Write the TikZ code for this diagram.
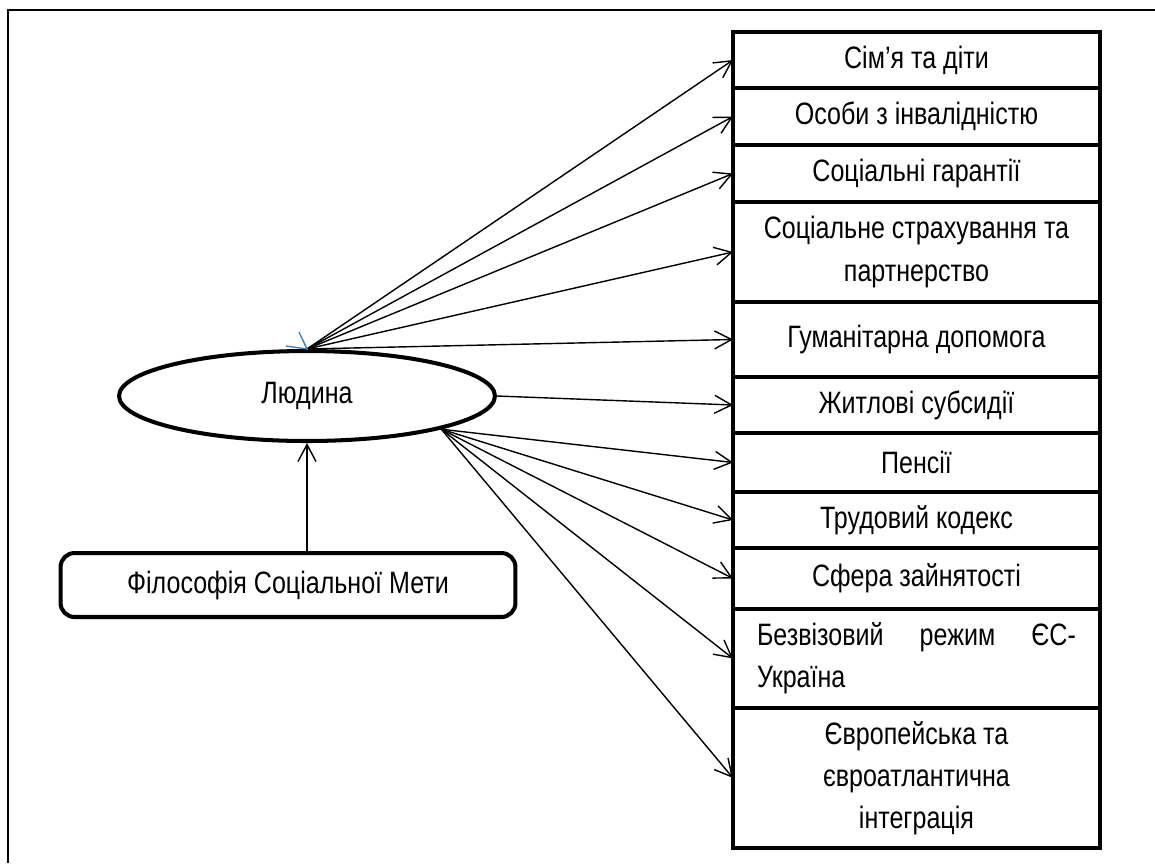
\documentclass[tikz,border=0pt]{standalone}
\usepackage{fontspec}
\setmainfont[FakeStretch=0.81]{Liberation Sans}
\usetikzlibrary{calc,positioning,arrows.meta,shapes.geometric}
\definecolor{markblue}{RGB}{74,126,187}

\begin{document}
\begin{tikzpicture}[x=0.02cm,y=-0.02cm,>={Straight Barb[length=3.4mm,width=3.6mm]},
    every node/.style={font=\fontsize{17.6}{24}\selectfont},
    box/.style={draw,line width=2.3pt,rectangle,anchor=north west,outer sep=0pt,inner sep=0pt,minimum width=7.34cm,align=center},
    link/.style={->,line width=0.8pt}]
    \useasboundingbox (0,0) rectangle (1155,863);
    \draw[line width=1.2pt] (8,863) -- (8,10) -- (1155,10);
    %
    \node[draw,ellipse,line width=2.3pt,minimum width=7.52cm,minimum height=1.8cm] (Ludyna) at (307,396) {Людина};
    \node[draw,rounded corners=8pt,line width=2.3pt,minimum width=9.1cm,minimum height=1.28cm] (Meta) at (288,585) {Філософія Соціальної Мети};
    %
    \node[box,minimum height=1.12cm] (Simya) at (733,32) {Сім’я та діти};
    \node[box,minimum height=1.14cm] (Osoby) at (733,88) {Особи з інвалідністю};
    \node[box,minimum height=1.14cm] (Harantii) at (733,145) {Соціальні гарантії};
    \node[box,minimum height=2.0cm] (Strakh) at (733,202) {Соціальне страхування та\\партнерство};
    \node[box,minimum height=1.5cm] (Humdop) at (733,302) {Гуманітарна допомога};
    \node[box,minimum height=1.12cm] (Subsydii) at (733,377) {Житлові субсидії};
    \node[box,minimum height=1.18cm] (Pensii) at (733,433) {Пенсії};
    \node[box,minimum height=1.12cm] (Kodeks) at (733,492) {Трудовий кодекс};
    \node[box,minimum height=1.22cm] (Zainiat) at (733,548) {Сфера зайнятості};
    \node[box,minimum height=1.98cm,text width=6.38cm,align=left] (Bezviz) at (733,609) {Безвізовий\hfill режим\hfill ЄС-\\Україна};
    \node[box,minimum height=2.8cm] (Yevro) at (733,708) {Європейська та\\євроатлантична\\інтеграція};
    %
    \draw[link] (Ludyna.north) -- (Simya.west);
    \draw[link] (Ludyna.north) -- (Osoby.west);
    \draw[link] (Ludyna.north) -- (Harantii.west);
    \draw[link] (Ludyna.north) -- (Strakh.west);
    \draw[link] (Ludyna.north) -- (Humdop.west);
    \draw[link] (Ludyna.east) -- (Subsydii.west);
    \draw[link] (Ludyna.south east) -- (Pensii.west);
    \draw[link] (Ludyna.south east) -- (Kodeks.west);
    \draw[link] (Ludyna.south east) -- (Zainiat.west);
    \draw[link] (Ludyna.south east) -- (Bezviz.west);
    \draw[link] (Ludyna.south east) -- (Yevro.west);
    \draw[link] (Ludyna.south |- Meta.north) -- (Ludyna.south);
    % blue tip at the top of the ellipse
    \draw[markblue,line width=0.8pt] ($(Ludyna.north)+(-21,-3)$) -- (Ludyna.north) -- ($(Ludyna.north)+(-8,-17)$);
\end{tikzpicture}
\end{document}
